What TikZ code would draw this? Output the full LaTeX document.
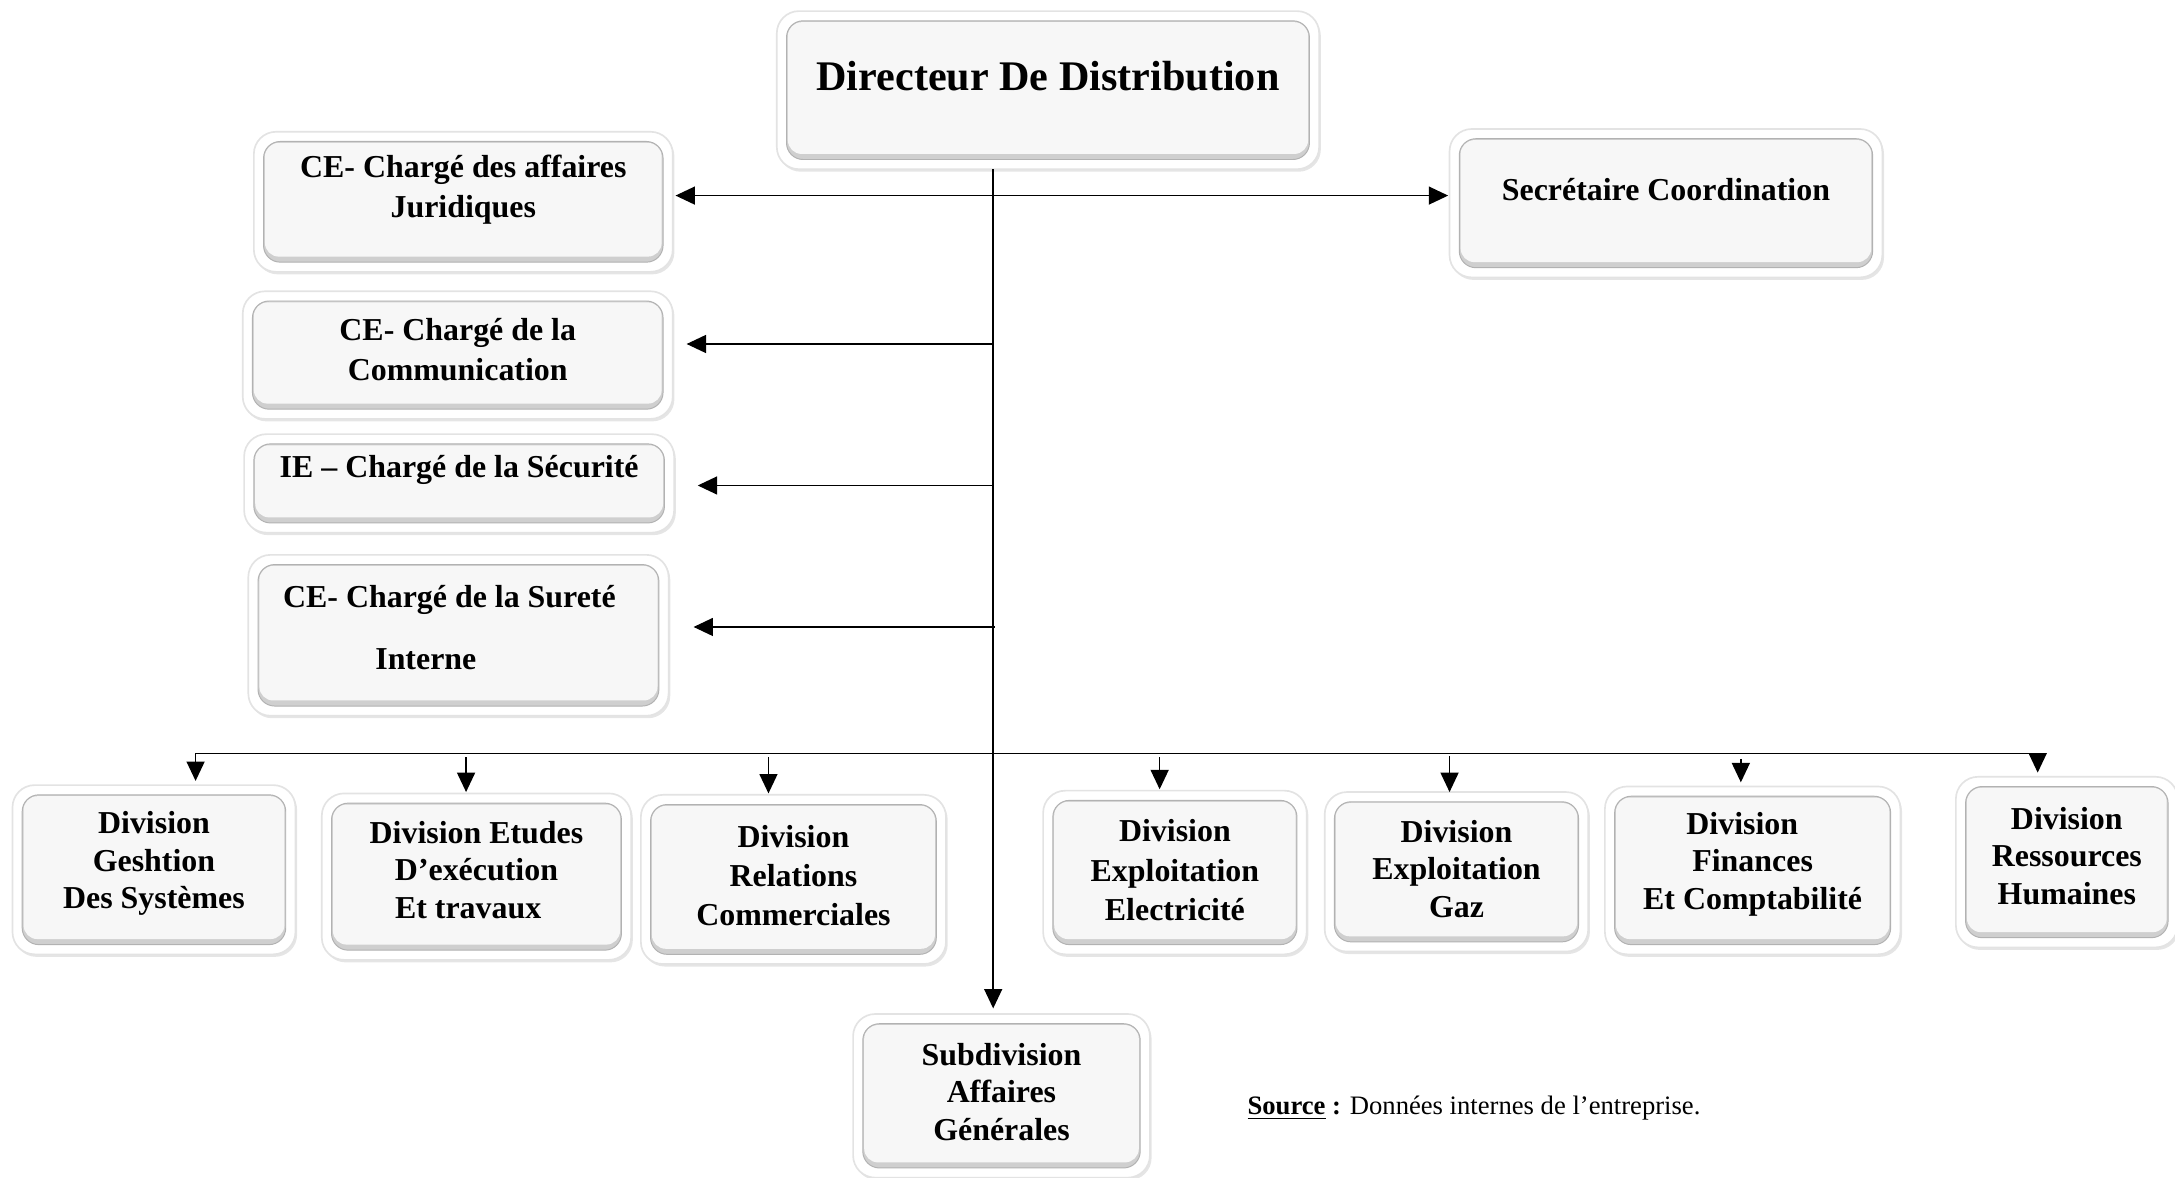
\documentclass[tikz,border=0pt]{standalone}
\usepackage{fontspec}
\setmainfont{Liberation Serif}
\usetikzlibrary{arrows.meta,shadows}
\tikzset{
 frame/.style={draw=gray!22, fill=white, rounded corners=8pt, line width=0.6pt, inner sep=0pt, outer sep=0pt,
   drop shadow={shadow xshift=0.6pt, shadow yshift=-0.9pt, opacity=0.25, fill=gray!80},
   path picture={
     \fill[gray!38, rounded corners=6pt] ([shift={(3.5pt,3.5pt)}]path picture bounding box.south west) rectangle ([shift={(-3.5pt,-3.5pt)}]path picture bounding box.north east);
     \fill[gray!6, rounded corners=5pt] ([shift={(4pt,5.5pt)}]path picture bounding box.south west) rectangle ([shift={(-4pt,-4pt)}]path picture bounding box.north east);
     \draw[gray!60, line width=0.35pt, rounded corners=6pt] ([shift={(3.5pt,3.5pt)}]path picture bounding box.south west) rectangle ([shift={(-3.5pt,-3.5pt)}]path picture bounding box.north east);
   }},
 lab/.style={align=center, inner sep=0pt, font=\fontsize{11.5}{14.5}\selectfont\bfseries},
 labb/.style={align=center, inner sep=0pt, font=\fontsize{11.5}{13.5}\selectfont\bfseries},
 conn/.style={line width=0.5pt, black},
 tip/.tip={Triangle[length=7pt,width=6.5pt]},
 arr/.style={conn, -tip},
}
\begin{document}
\begin{tikzpicture}[x=0.5pt,y=-0.5pt]
\useasboundingbox (0,0) rectangle (1568,849);
% top level
\node[frame, minimum width=195.5pt, minimum height=57pt,
  label={[lab, font=\fontsize{15.2}{18}\selectfont\bfseries, yshift=5pt]center:{Directeur De Distribution}}] (dir) at (755.5,65) {};
\node[frame, minimum width=151pt, minimum height=50.5pt,
  label={[lab, yshift=4.5pt]center:{CE- Chargé des affaires\\Juridiques}}] (jur) at (334,145.5) {};
\node[frame, minimum width=156pt, minimum height=53.5pt,
  label={[lab, yshift=4.75pt]center:{Secrétaire Coordination}}] (sec) at (1201,146.5) {};
\node[frame, minimum width=155pt, minimum height=46pt,
  label={[lab, yshift=2pt]center:{CE- Chargé de la\\Communication}}] (com) at (330,256) {};
\node[frame, minimum width=155pt, minimum height=35.5pt,
  label={[lab, yshift=4.75pt]center:{IE – Chargé de la Sécurité}}] (secu) at (331,348.5) {};
\node[frame, minimum width=151.5pt, minimum height=58pt,
  label={[lab, yshift=2.75pt, xshift=-3.25pt]center:{CE- Chargé de la Sureté\\[8pt]Interne\hspace*{17pt}}}] (sur) at (330.5,458) {};
% divisions
\node[frame, minimum width=102pt, minimum height=61pt,
  label={[labb, yshift=2.25pt]center:{Division\\Geshtion\\Des Systèmes}}] (gest) at (111,627) {};
\node[frame, minimum width=111.5pt, minimum height=60pt,
  label={[labb, yshift=2.5pt]center:{Division Etudes\\D’exécution\\Et travaux\hspace*{6pt}}}] (etu) at (343.5,632) {};
\node[frame, minimum width=110pt, minimum height=61pt,
  label={[labb, font=\fontsize{11.5}{14}\selectfont\bfseries, yshift=1.5pt]center:{Division\\Relations\\Commerciales}}] (rel) at (572,634) {};
\node[frame, minimum width=95pt, minimum height=59pt,
  label={[labb, font=\fontsize{11.5}{14.2}\selectfont\bfseries, yshift=0.75pt]center:{Division\\Exploitation\\Electricité}}] (ele) at (847,629) {};
\node[frame, minimum width=95pt, minimum height=57.5pt,
  label={[labb, yshift=1pt]center:{Division\\Exploitation\\Gaz}}] (gaz) at (1050,628.5) {};
\node[frame, minimum width=106.5pt, minimum height=60.5pt,
  label={[labb, yshift=2.25pt]center:{Division\hspace*{7.5pt}\\Finances\hspace*{4pt}\\Et Comptabilité}}] (fin) at (1263.5,627.5) {};
\node[frame, minimum width=80pt, minimum height=61.5pt,
  label={[labb, yshift=2.25pt]center:{Division\\Ressources\\Humaines}}] (rh) at (1490,621.5) {};
\node[frame, minimum width=107pt, minimum height=59pt,
  label={[labb, yshift=1.5pt]center:{Subdivision\\Affaires\\Générales}}] (sub) at (722,790) {};
% source
\node[anchor=west, inner sep=0pt, font=\fontsize{9.6}{11}\selectfont] (src) at (899,799) {\underline{\textbf{Source}} \textbf{:} Données internes de l’entreprise.};
% connectors
\coordinate (tx) at (716,0);
\draw[arr, shorten >=2pt] (dir.south -| tx) -- (sub.north -| tx);
\coordinate (hj) at (716,141);
\draw[conn, tip-tip] ([xshift=1pt]jur.east |- hj) -- ([xshift=-0.5pt]sec.west |- hj);
\coordinate (hc) at (716,248);
\draw[arr] (hc) -- ([xshift=5pt]com.east |- hc);
\coordinate (hs) at (716,350);
\draw[arr] (hs) -- ([xshift=8.5pt]secu.east |- hs);
\coordinate (hu) at (717,452);
\draw[arr] (hu) -- ([xshift=9pt]sur.east |- hu);
% bus
\coordinate (b1) at (141,543);
\coordinate (b2) at (336,543);
\coordinate (b3) at (554,543);
\coordinate (b4) at (836,543);
\coordinate (b5) at (1045,543);
\coordinate (b6) at (1255,543);
\coordinate (b7) at (1469,543);
\draw[conn] (b1) -- (b7);
\draw[arr, shorten >=1.5pt] (b1) -- (b1 |- gest.north);
\draw[arr, shorten <=1.5pt, shorten >=0.5pt] (b2) -- (b2 |- etu.north);
\draw[arr, shorten <=1.5pt, shorten >=0.5pt] (b3) -- (b3 |- rel.north);
\draw[arr, shorten <=1.5pt, shorten >=0.5pt] (b4) -- (b4 |- ele.north);
\draw[arr, shorten <=1pt] (b5) -- (b5 |- gaz.north);
\draw[arr, shorten <=2pt, shorten >=1.5pt] (b6) -- (b6 |- fin.north);
\draw[arr, shorten >=1.5pt] (b7) -- (b7 |- rh.north);
\end{tikzpicture}
\end{document}
